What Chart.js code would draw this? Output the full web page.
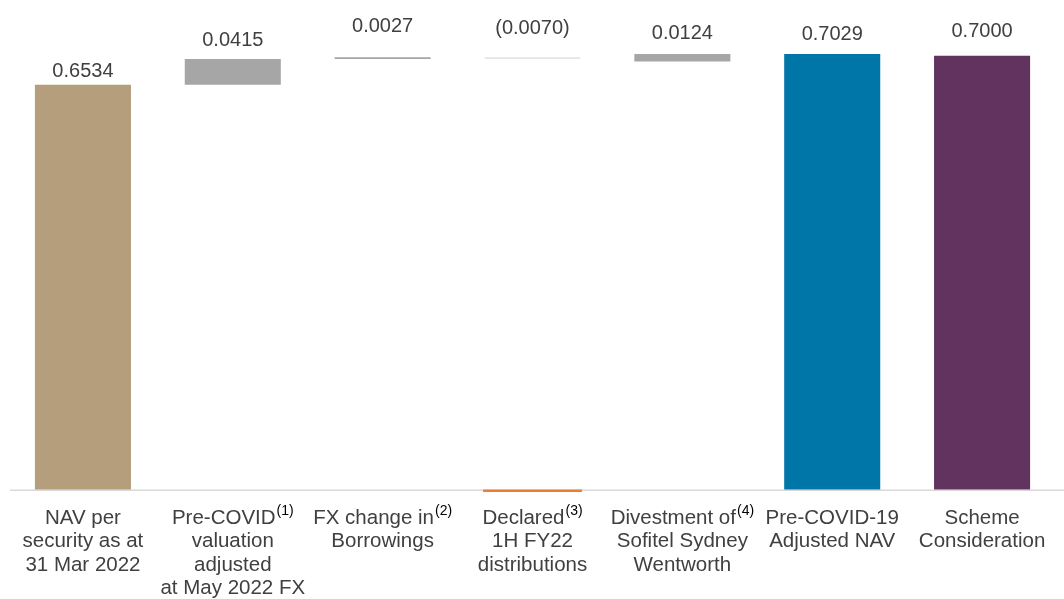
<!DOCTYPE html>
<html>
<head>
<meta charset="utf-8">
<script src="https://cdn.jsdelivr.net/npm/chart.js@4.4.1/dist/chart.umd.min.js"></script>
<style>
  html, body { margin: 0; padding: 0; background: #ffffff; }
  canvas { display: block; }
</style>
</head>
<body>
<canvas id="bridge" width="1064" height="599"></canvas>
<script>
// Category labels, one entry per line, and the footnote marker on the first line
const categoryLines = [
  ['NAV per', 'security as at', '31 Mar 2022'],
  ['Pre-COVID', 'valuation', 'adjusted', 'at May 2022 FX'],
  ['FX change in', 'Borrowings'],
  ['Declared', '1H FY22', 'distributions'],
  ['Divestment of', 'Sofitel Sydney', 'Wentworth'],
  ['Pre-COVID-19', 'Adjusted NAV'],
  ['Scheme', 'Consideration']
];
const footnotes = ['', '(1)', '(2)', '(3)', '(4)', '', ''];

// NAV bridge values: totals start from zero, movements float on the running total
const stepValues = [0.6534, 0.0415, 0.0027, -0.0070, 0.0124, 0.7029, 0.7000];
const stepKinds = ['total', 'move', 'move', 'move', 'move', 'total', 'total'];

// Thin marker under the distributions column
const baseMarks = [null, null, null, [-0.004, 0], null, null, null];

const barColors = ['#B49E7B', '#A6A6A6', '#A6A6A6', 'rgba(255,255,255,0)', '#A6A6A6', '#0076A8', '#62335F'];

// Build floating bars from the running total
let running = 0;
const floatingData = stepValues.map((v, i) => {
  if (stepKinds[i] === 'total') {
    running = v;
    return [0, v];
  }
  const start = running;
  running = running + v;
  return [start, running];
});

const formatValue = v => v < 0 ? '(' + Math.abs(v).toFixed(4) + ')' : v.toFixed(4);

const FONT = "'Liberation Sans', Arial, Helvetica, sans-serif";
const TEXT = '#404040';
// distance from bar top to the centre of its value label
const labelGaps = [13, 18, 31, 29, 20, 19, 24];

const bridgeDecor = {
  id: 'bridgeDecor',
  beforeDatasetsDraw(chart) {
    const ctx = chart.ctx;
    const y0 = Math.round(chart.scales.y.getPixelForValue(0)) + 0.25;
    ctx.save();
    ctx.strokeStyle = '#D9D9D9';
    ctx.lineWidth = 1.5;
    ctx.beginPath();
    ctx.moveTo(10, y0);
    ctx.lineTo(chart.width, y0);
    ctx.stroke();
    ctx.restore();
  },
  afterDatasetsDraw(chart) {
    const ctx = chart.ctx;
    const meta = chart.getDatasetMeta(0);
    const xScale = chart.scales.x;
    ctx.save();
    ctx.textAlign = 'center';
    ctx.textBaseline = 'middle';
    ctx.fillStyle = TEXT;
    ctx.font = '20px ' + FONT;
    meta.data.forEach((bar, i) => {
      const top = Math.min(bar.y, bar.base);
      ctx.fillText(formatValue(stepValues[i]), bar.x, top - labelGaps[i]);
    });

    // category labels with superscript notes
    const lineTop = 518;
    const lineStep = 23.5;
    categoryLines.forEach((lines, i) => {
      const cx = xScale.getPixelForValue(i);
      lines.forEach((txt, j) => {
        const y = lineTop + j * lineStep;
        ctx.font = '20.5px ' + FONT;
        const w = ctx.measureText(txt).width;
        let noteW = 0;
        const note = j === 0 ? footnotes[i] : '';
        if (note) {
          ctx.font = '14px ' + FONT;
          noteW = ctx.measureText(note).width + 1;
        }
        const start = cx - (w + noteW) / 2;
        ctx.textAlign = 'left';
        ctx.font = '20.5px ' + FONT;
        ctx.fillStyle = TEXT;
        ctx.fillText(txt, start, y);
        if (note) {
          ctx.font = '14px ' + FONT;
          ctx.fillStyle = '#000000';
          ctx.fillText(note, start + w + 1, y - 7);
        }
      });
    });
    ctx.restore();
  }
};

new Chart(document.getElementById('bridge'), {
  type: 'bar',
  data: {
    labels: categoryLines.map(l => l.join(' ')),
    datasets: [
      {
        label: 'NAV bridge',
        data: floatingData,
        backgroundColor: barColors,
        borderColor: stepValues.map(v => v < 0 ? '#DDDDDD' : 'rgba(0,0,0,0)'),
        borderWidth: stepValues.map(v => v < 0 ? { top: 1.5, bottom: 0, left: 0, right: 0 } : 0),
        borderSkipped: false,
        barPercentage: 0.641,
        categoryPercentage: 1.0
      },
      {
        label: 'Distributions',
        data: baseMarks,
        backgroundColor: '#ED7D31',
        borderWidth: 0,
        barPercentage: 0.66,
        categoryPercentage: 1.0
      }
    ]
  },
  options: {
    responsive: false,
    animation: false,
    layout: { padding: { left: 8, right: 7, top: 0, bottom: 107 } },
    plugins: {
      legend: { display: false },
      tooltip: { enabled: false }
    },
    scales: {
      x: { display: false, stacked: true },
      y: { display: false, stacked: false, min: -0.004, max: 0.79 }
    }
  },
  plugins: [bridgeDecor]
});
</script>
</body>
</html>
